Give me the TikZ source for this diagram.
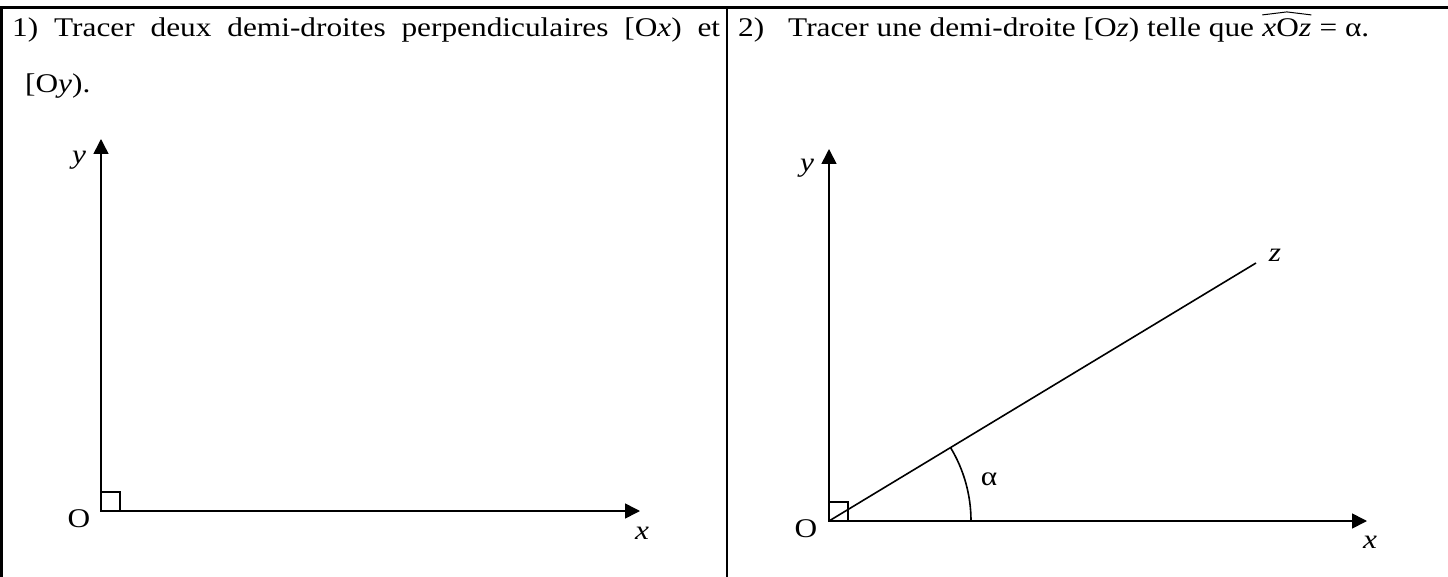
\documentclass[tikz,border=0pt]{standalone}
\usepackage{fontspec}
\setmainfont[FakeStretch=1.16]{Liberation Serif}
\usetikzlibrary{arrows.meta}

\tikzset{
  axe/.style={line width=1.6pt,-{Triangle[length=15pt,width=15pt]}},
  trait/.style={line width=1.6pt},
  cadre/.style={line width=3pt},
  lbl/.style={anchor=base,inner sep=0pt},
  txt/.style={anchor=base west,inner sep=0pt},
}

\begin{document}
\begin{tikzpicture}[x=1pt,y=1pt,font=\fontsize{27}{32}\selectfont]
    \useasboundingbox (0,0) rectangle (1448,-577);
    % cadre du tableau
    \draw[cadre] (0,-8) -- (1448,-8);
    \draw[cadre] (1.5,-8) -- (1.5,-577);
    \draw[cadre,line width=2.7pt] (727,-8) -- (727,-577);
    % consignes
    \node[txt] (q1) at (12,-37) {\makebox[708pt][s]{1) Tracer deux demi-droites perpendiculaires [O\textit{x}) et}};
    \node[txt] (q1b) at (25,-93) {[O\textit{y}).};
    \node[txt] (q2num) at (738,-37) {2)};
    \node[txt] (q2) at (788,-37) {Tracer une demi-droite [O\textit{z}) telle que};
    \node[txt] (xoz) at ([xshift=8pt]q2.base east) {\textit{x}O\textit{z}};
    \node[txt] (q2fin) at ([xshift=8pt]xoz.base east) {= α.};
    \draw[line width=1pt] ([yshift=4pt]xoz.north west) -- ([yshift=7pt]xoz.north)
      -- ([yshift=4pt]xoz.north east);
    % figure 1
    \coordinate (O1) at (101,-511);
    \coordinate (y1) at (101,-139);
    \coordinate (x1) at (640,-511);
    \draw[axe] (O1) -- (y1);
    \draw[axe] (O1) -- (x1);
    \draw[trait] (O1) rectangle ++(19,19);
    \node[lbl] (lO1) at (79,-527) {O};
    \node[lbl] (ly1) at (79,-164) {\textit{y}};
    \node[lbl] (lx1) at (642,-539) {\textit{x}};
    % figure 2
    \coordinate (O2) at (829,-521);
    \coordinate (y2) at (829,-149);
    \coordinate (x2) at (1367,-521);
    \coordinate (z2) at (1256,-263);
    \draw[axe] (O2) -- (y2);
    \draw[axe] (O2) -- (x2);
    \draw[trait] (O2) -- (z2);
    \draw[trait] (O2) rectangle ++(19,19);
    \draw[trait] ([xshift=142pt]O2) arc[start angle=0,end angle=31.14,radius=142];
    \node[lbl] (lO2) at (806,-537) {O};
    \node[lbl] (ly2) at (807,-172) {\textit{y}};
    \node[lbl] (lx2) at (1370,-548) {\textit{x}};
    \node[lbl] (lz2) at (1275,-262) {\textit{z}};
    \node[lbl] (la2) at (989,-485) {α};
\end{tikzpicture}
\end{document}
